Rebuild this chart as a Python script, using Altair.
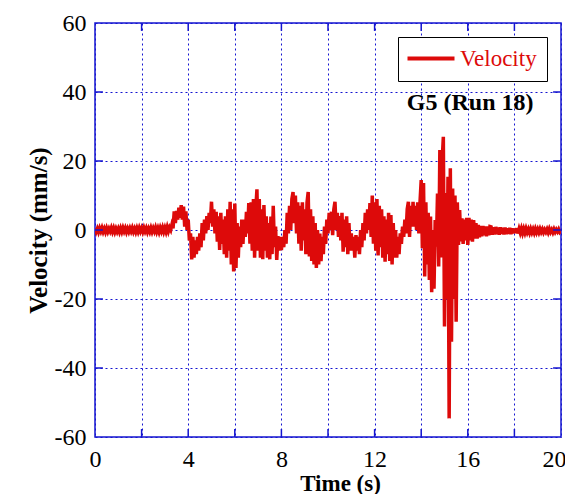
import altair as alt
import pandas as pd

DT = 0.05  # sample spacing (s)

seg00 = [0.5,-0.5,0.4,-0.6,0.5,-0.4,0.6,-0.5,0.4,-0.6,0.5,-0.5,0.4,-0.4,0.6,-0.5,0.5,-0.6,0.4,-0.5]
seg01 = [0.4,-0.6,0.5,-0.5,0.6,-0.4,0.5,-0.6,0.4,-0.5,0.5,-0.4,0.6,-0.5,0.4,-0.6,0.5,-0.5,0.6,-0.4]
seg02 = [0.5,-0.5,0.6,-0.4,0.5,-0.6,0.4,-0.5,0.6,-0.5,0.5,-0.4,0.7,-0.5,0.5,-0.6,0.6,-0.4,0.7,-0.5]
seg03 = [0.6,-0.5,0.8,-0.4,0.7,0.0,1.5,0.5,5.4,2.0,5.5,3.0,6.5,3.5,7.2,3.0,6.8,1.0,5.4,0.0]
seg04 = [3.0,-3.0,-1.0,-8.5,-2.0,-8.0,-3.0,-7.0,-2.0,-6.0,-1.0,-5.0,2.0,-3.0,3.0,-1.0,4.0,0.0,5.0,2.0]
seg05 = [8.2,1.0,6.0,-1.0,5.3,-3.4,4.0,-5.8,5.0,-4.0,3.0,-7.0,4.0,-8.0,6.0,-6.0,8.2,-10.0,6.0,-12.0]
seg06 = [7.7,-11.0,2.0,-8.0,1.0,-5.0,3.0,-4.0,3.0,-2.0,5.3,-1.0,7.8,-4.0,8.0,-6.0,9.0,-8.0,6.0,11.8]
seg07 = [-6.0,9.0,-8.0,6.0,-8.5,7.2,-6.0,4.0,-8.0,2.0,-8.5,3.9,-7.0,7.0,-5.0,1.0,-8.7,-1.8,-6.0,-2.0]
seg08 = [-5.8,-2.0,-5.0,0.0,-4.0,5.0,-1.0,7.0,0.0,9.0,11.0,2.0,10.0,-1.0,8.0,-4.0,7.0,-6.0,8.0,-3.0]
seg09 = [6.0,-7.0,8.0,11.0,-7.7,6.0,-9.0,4.0,-10.0,2.0,-11.0,0.0,-10.0,-1.0,-9.0,-2.0,-7.0,1.0,-4.0,3.0]
seg10 = [-1.0,5.0,0.0,5.3,-1.5,6.0,8.2,0.0,5.0,-2.0,4.0,-3.0,5.0,-6.3,3.0,-5.0,4.0,-7.0,2.0,-6.0]
seg11 = [-1.0,-6.0,-2.0,-8.0,-1.5,-6.0,-2.0,-7.0,0.0,-5.0,2.0,-3.0,5.0,-1.0,6.0,0.0,7.8,-2.0,10.0,-4.0]
seg12 = [8.0,-6.0,9.0,-7.4,7.0,-5.0,6.0,-8.0,4.0,-9.2,3.0,-7.0,5.0,-9.0,4.3,-10.0,2.0,-8.0,0.0,-8.0]
seg13 = [-2.0,-7.0,-1.0,-4.0,1.0,-2.0,3.0,-1.0,6.0,8.2,-2.0,7.0,1.0,8.2,1.0,7.0,0.0,8.0,-1.0,8.2]
seg14 = [14.5,-5.3,13.6,-13.5,8.0,-10.0,5.0,-14.5,3.9,-18.0,0.0,-17.0,2.9,-4.8,10.6,-10.6,23.2,-8.0,20.0,27.0]
seg15 = [-28.0,10.7,-20.0,15.4,-54.6,17.9,-32.4,12.0,-20.0,10.0,-26.6,8.0,-4.3,5.8,-3.3,3.4,-4.0,3.0,-3.0,3.5]
seg16 = [-4.3,3.5,-3.0,3.0,-3.4,2.9,-2.5,2.0,-2.5,1.5,-2.1,1.2,-1.8,1.2,-1.5,1.0,-1.8,1.0,-1.5,1.0]
seg17 = [0.9,-1.4,0.8,-1.3,0.9,-1.2,0.7,-1.4,0.8,-1.1,0.6,-1.3,0.7,-1.2,0.5,-1.1,0.6,-1.2,0.5,-1.0]
seg18 = [0.4,-0.9,0.5,-1.0,0.3,-0.8,0.4,-0.9,0.3,-0.8,0.4,-0.7,0.2,-0.8,0.3,-0.7,0.2,-0.8,0.3,-0.7]
seg19 = [0.2,-0.7,0.3,-0.6,0.2,-0.7,0.1,-0.6,0.2,-0.7,0.3,-0.6,0.1,-0.7,0.2,-0.6,0.1,-0.5,0.2,-0.6]
seg_end = [-0.2]

segments = [seg00, seg01, seg02, seg03, seg04, seg05, seg06, seg07, seg08, seg09,
            seg10, seg11, seg12, seg13, seg14, seg15, seg16, seg17, seg18, seg19, seg_end]
velocity = [v for s in segments for v in s]
time = [round(i * DT, 2) for i in range(len(velocity))]

x_grid = list(range(0, 21))
y_grid = list(range(-60, 61, 10))
x_tick_vals = [2, 4, 6, 8, 10, 12, 14, 16, 18]
y_tick_vals = [-40, -20, 0, 20, 40]

RED = "#DD0A0A"
BLUE = "#1515D0"
FONT = "Times New Roman, Liberation Serif, serif"

df = pd.DataFrame({"t": time, "v": velocity, "series": "Velocity"})

xscale = alt.Scale(domain=[0, 20], nice=False, zero=False)
yscale = alt.Scale(domain=[-60, 60], nice=False, zero=False)
x_axis = alt.Axis(values=x_grid, labelExpr="datum.value % 4 == 0 ? '' + datum.value : ''",
                  ticks=False, domain=False, labelPadding=10, labelFlush=False,
                  labelOffset={"condition": {"test": "datum.value == 20", "value": -7}, "value": 0},
                  labelFont=FONT, labelFontSize=24,
                  titleX=245, titleY=53, titleBaseline="alphabetic",
                  titleFont=FONT, titleFontSize=23)
y_axis = alt.Axis(values=y_grid,
                  labelExpr="datum.value % 20 == 0 ? (datum.value < 0 ? '-' + abs(datum.value) : '' + datum.value) : ''",
                  ticks=False, domain=False, labelPadding=9, titlePadding=3, labelFlush=False,
                  labelFont=FONT, labelFontSize=24, titleFont=FONT, titleFontSize=25)
XT = "Time (s)"
YT = "Velocity (mm/s)"

line = alt.Chart(df).mark_line(strokeWidth=3.5, color=RED, clip=True).encode(
    x=alt.X("t:Q", scale=xscale, title=XT, axis=x_axis),
    y=alt.Y("v:Q", scale=yscale, title=YT, axis=y_axis),
    color=alt.Color("series:N", scale=alt.Scale(domain=["Velocity"], range=[RED]),
                    legend=alt.Legend(orient="none", legendX=303, legendY=14, title=None,
                                      strokeColor="black", fillColor="white", padding=10,
                                      symbolType="M-2.4,0H7", symbolSize=100, symbolStrokeWidth=4,
                                      labelFont=FONT, labelFontSize=23, labelColor=RED,
                                      labelOffset=29)),
)

xt = pd.DataFrame({"x": x_tick_vals})
yt = pd.DataFrame({"y": y_tick_vals})

def xtick(y0, y1):
    return alt.Chart(xt).transform_calculate(y0=str(y0), y1=str(y1)).mark_rule(
        color=BLUE, strokeWidth=1.5).encode(
        x=alt.X("x:Q", scale=xscale, title=XT, axis=x_axis),
        y=alt.Y("y0:Q", scale=yscale, title=YT, axis=y_axis), y2="y1:Q")

def ytick(x0, x1):
    return alt.Chart(yt).transform_calculate(x0=str(x0), x1=str(x1)).mark_rule(
        color=BLUE, strokeWidth=1.5).encode(
        y=alt.Y("y:Q", scale=yscale, title=YT, axis=y_axis),
        x=alt.X("x0:Q", scale=xscale, title=XT, axis=x_axis), x2="x1:Q")

label = alt.Chart(pd.DataFrame({"txt": ["G5 (Run 18)"]})).mark_text(
    font=FONT, fontSize=24, fontWeight="bold", color="black", align="center", baseline="middle"
).encode(x=alt.datum(16.1), y=alt.datum(36.7), text="txt:N")

chart = alt.layer(line, xtick(-60, -57.7), xtick(60, 57.7), ytick(0, 0.34), ytick(20, 19.66), label).properties(
    width=466, height=414,
    autosize=alt.AutoSizeParams(type="none"),
    padding={"left": 87, "top": 15, "right": 4, "bottom": 57},
    background="white",
).configure_view(stroke=BLUE, strokeWidth=1.5).configure_axis(
    grid=True, gridColor=BLUE, gridDash=[2, 3], gridWidth=1, gridOpacity=1,
    labelColor="black", titleFontWeight="bold", titleColor="black",
)

chart.save("out.html", embed_options={"renderer": "svg", "actions": False})
